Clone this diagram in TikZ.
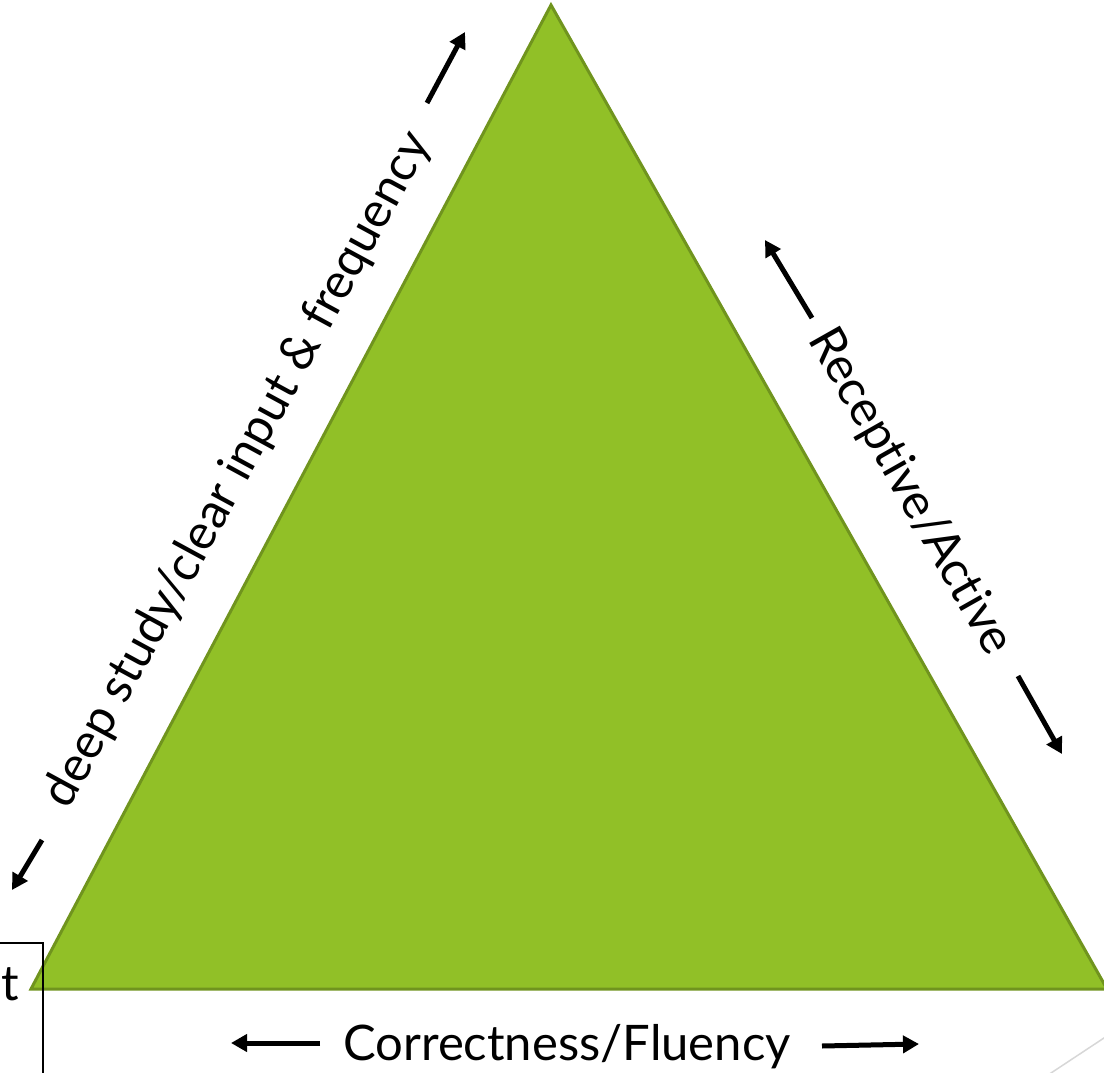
\documentclass[tikz,border=0pt]{standalone}
\usepackage{fontspec}
\setmainfont{Lato}[Ligatures={NoCommon}]
\usetikzlibrary{arrows.meta}
\definecolor{trifill}{RGB}{145,192,39}
\definecolor{tristroke}{RGB}{112,148,30}
\definecolor{decogray}{RGB}{215,215,215}
\tikzset{
  lbl/.style={font=\fontsize{49}{54}\selectfont, inner sep=0pt, text=black},
  arr/.style={line width=5pt, -{Triangle[length=16pt,width=17pt]}, black},
}
\begin{document}
\begin{tikzpicture}[x=1pt,y=-1pt]
\useasboundingbox (0,0) rectangle (1104,1073);
\clip (0,0) rectangle (1104,1073);
% triangle
\coordinate (A) at (551,5);
\coordinate (B) at (31,989);
\coordinate (C) at (1107,989);
\filldraw[fill=trifill, draw=tristroke, line width=3pt, line join=miter] (A) -- (B) -- (C) -- cycle;
% left partial box
\coordinate (bx1) at (-5,943);
\coordinate (bx2) at (43,943);
\coordinate (bx3) at (43,1080);
\draw[line width=1.2pt] (bx1) -- (bx2) -- (bx3);
\node[lbl, anchor=base] (t) at (10,1000) {t};
% decoration line
\coordinate (g1) at (1110,1034);
\coordinate (g2) at (1048,1075);
\draw[decogray, line width=1.5pt] (g1) -- (g2);
% labels
\node[lbl, rotate=61.5] (left) at (238,470) {deep study/clear input \& frequency};
\node[lbl, rotate=-60.5] (right) at (910,492) {Receptive/Active};
\node[lbl] (bottom) at (567,1047) {Correctness/Fluency};
% arrows
\coordinate (l1s) at (42,840); \coordinate (l1e) at (12,890);
\coordinate (l2s) at (427,103); \coordinate (l2e) at (465,32);
\coordinate (r1s) at (812,318); \coordinate (r1e) at (765,240);
\coordinate (r2s) at (1018,676); \coordinate (r2e) at (1062,754);
\coordinate (b1s) at (320,1043); \coordinate (b1e) at (231,1043);
\coordinate (b2s) at (822,1046); \coordinate (b2e) at (919,1044);
\draw[arr] (l1s) -- (l1e);
\draw[arr] (l2s) -- (l2e);
\draw[arr] (r1s) -- (r1e);
\draw[arr] (r2s) -- (r2e);
\draw[arr] (b1s) -- (b1e);
\draw[arr] (b2s) -- (b2e);
\end{tikzpicture}
\end{document}
